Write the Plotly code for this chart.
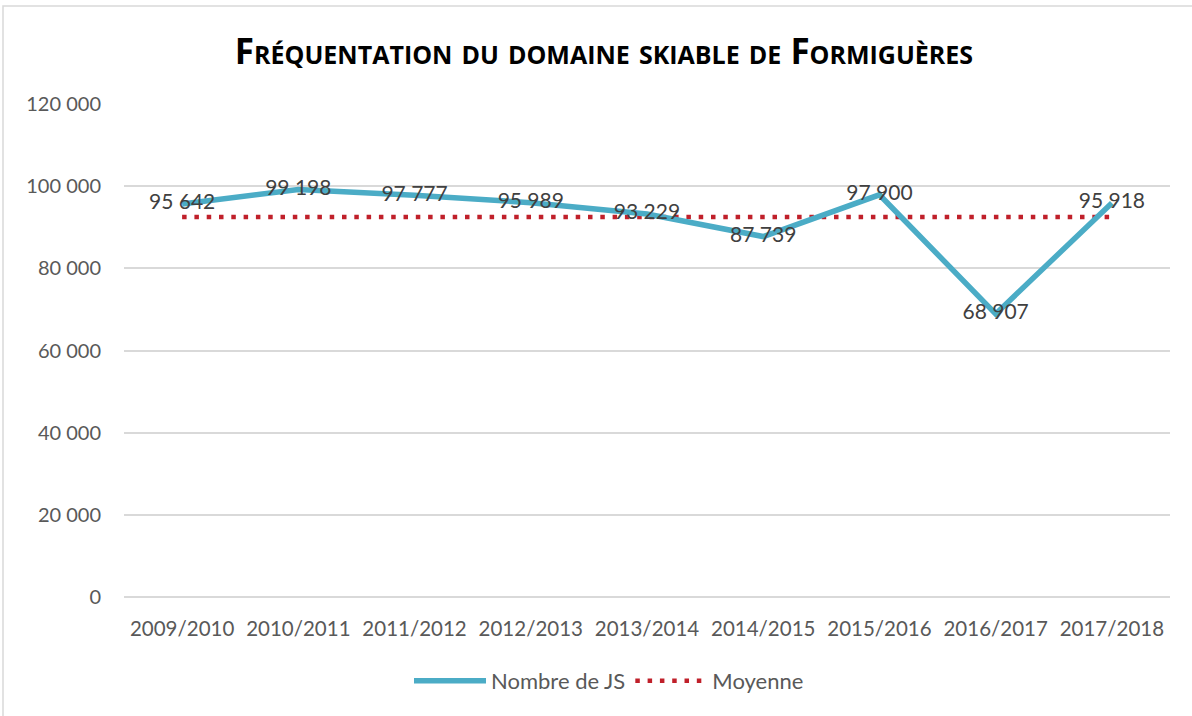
import plotly.graph_objects as go

saisons = ["2009/2010", "2010/2011", "2011/2012", "2012/2013", "2013/2014",
           "2014/2015", "2015/2016", "2016/2017", "2017/2018"]
nombre_js = [95642, 99198, 97777, 95989, 93229, 87739, 97900, 68907, 95918]
moyenne = [92478, 92478, 92478, 92478, 92478, 92478, 92478, 92478, 92478]
y_ticks = [0, 20000, 40000, 60000, 80000, 100000, 120000]

FONT = "Lato"
TITLE_FONT = "Open Sans"
W, H = 1192, 716
L, R, T, B = 124, 22, 104, 119
pw, ph = W - L - R, H - T - B

fig = go.Figure()

fig.add_trace(go.Scatter(
    x=saisons, y=moyenne, name="Moyenne", mode="lines",
    line=dict(color="#C0202A", width=4.5, dash="4.5px,7.8px"),
    hoverinfo="skip",
))

fig.add_trace(go.Scatter(
    x=saisons, y=nombre_js, name="Nombre de JS", mode="lines+text",
    line=dict(color="#4BACC6", width=5.5),
    text=nombre_js, texttemplate="%{y:,.0f}", textposition="middle center",
    textfont=dict(family=FONT, size=21, color="#404040"),
))

# chart frame (left and top edges visible)
fig.add_shape(type="rect", xref="paper", yref="paper",
              x0=(3 - L) / pw, x1=(W + 10 - L) / pw,
              y0=-(H + 10 - (H - B)) / ph, y1=(H - B - 6) / ph,
              line=dict(color="#D9D9D9", width=1.5), fillcolor="rgba(0,0,0,0)",
              layer="below")

fig.update_layout(
    width=W, height=H,
    margin=dict(l=L, r=R, t=T, b=B),
    paper_bgcolor="white", plot_bgcolor="white",
    separators=", ",
    font=dict(family=FONT, color="#595959", size=20),
    title=dict(
        text="<b>Fréquentation du domaine skiable de Formiguères</b>",
        font=dict(family=TITLE_FONT, size=35, color="#000000", variant="small-caps"),
        x=(604 - L) / pw, xref="paper", xanchor="center",
        y=(H - 52) / H, yanchor="middle",
    ),
    showlegend=True,
    legend=dict(orientation="h", x=(609 - L) / pw, xanchor="center",
                y=-(681 - (H - B)) / ph,
                yanchor="middle", traceorder="reversed", itemwidth=72,
                font=dict(family=FONT, size=22, color="#595959")),
    xaxis=dict(
        type="category", range=[-0.5, 8.5], showgrid=False, zeroline=False,
        showline=False, ticks="", ticklabelstandoff=17,
        tickfont=dict(family=FONT, size=20.5, color="#595959"),
    ),
    yaxis=dict(
        range=[0, 120000], tickvals=y_ticks, tickformat=",.0f",
        showgrid=True, gridcolor="#D9D9D9", gridwidth=1.5,
        zeroline=True, zerolinecolor="#D9D9D9", zerolinewidth=1.5,
        showline=False, ticks="", ticklabelstandoff=22,
        tickfont=dict(family=FONT, size=20, color="#595959"),
    ),
)

fig.write_html("out.html")
